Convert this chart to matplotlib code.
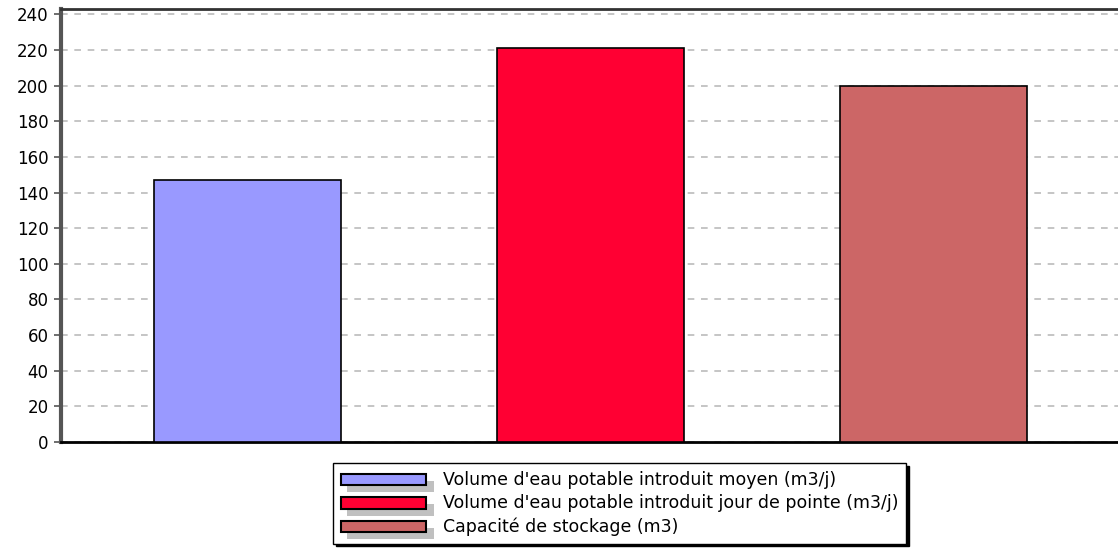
import matplotlib
matplotlib.use('Agg')
import matplotlib.pyplot as plt
from matplotlib.patches import Patch, Rectangle
from matplotlib.legend_handler import HandlerBase

#%% data
labels = ["Volume d'eau potable introduit moyen (m3/j)",
          "Volume d'eau potable introduit jour de pointe (m3/j)",
          "Capacité de stockage (m3)"]
values = [147, 221, 200]
colors_ = ['#9999FF', '#FF0033', '#CC6666']
yticks = list(range(0, 241, 20))

plt.rcParams['font.family'] = ['DejaVu Sans']


class ShadowBox(HandlerBase):
    # legend swatch with a grey drop shadow
    def create_artists(self, legend, orig, xd, yd, w, h, fontsize, trans):
        sh = Rectangle((xd + 4, yd - 5), w + 2, h, facecolor='#C0C0C0',
                       edgecolor='none', transform=trans)
        r = Rectangle((xd, yd), w, h, facecolor=orig.get_facecolor(),
                      edgecolor='black', lw=1.5, transform=trans)
        return [sh, r]


#%% plot
fig = plt.figure(figsize=(11.18, 5.52), dpi=100)
ax = fig.add_axes([0.0546, 0.199, 0.9454, 0.785])

xs = range(len(values))
bars = ax.bar(xs, values, width=0.545, color=colors_, edgecolor='black',
              linewidth=1.2, zorder=3)

ax.set_xlim(-0.544, 2.538)
ax.set_ylim(0, 243)
ax.set_yticks(yticks)
ax.set_xticks([])
ax.yaxis.grid(True, linestyle=(0, (4, 4)), color='#BBBBBB', linewidth=1.2, zorder=0)

ax.spines['right'].set_visible(False)
ax.spines['top'].set_color('#333333')
ax.spines['top'].set_linewidth(2.0)
ax.spines['left'].set_color('#555555')
ax.spines['left'].set_linewidth(3)
ax.spines['bottom'].set_color('black')
ax.spines['bottom'].set_linewidth(2.0)
ax.tick_params(axis='y', labelsize=12, length=5, width=1.2, color='#555555', pad=4)

handles = [Patch(facecolor=c) for c in colors_]
leg = fig.legend(handles, labels, loc='upper left', bbox_to_anchor=(0.298, 0.161),
                 handler_map={Patch: ShadowBox()}, fontsize=12.5, frameon=True,
                 fancybox=False, shadow={'color': 'black', 'alpha': 1},
                 handlelength=4.9, handleheight=0.62, handletextpad=0.95,
                 labelspacing=0.3, borderpad=0.45, borderaxespad=0)
leg.get_frame().set_edgecolor('black')
leg.get_frame().set_linewidth(1.0)

fig.savefig('out.png', dpi=100)
